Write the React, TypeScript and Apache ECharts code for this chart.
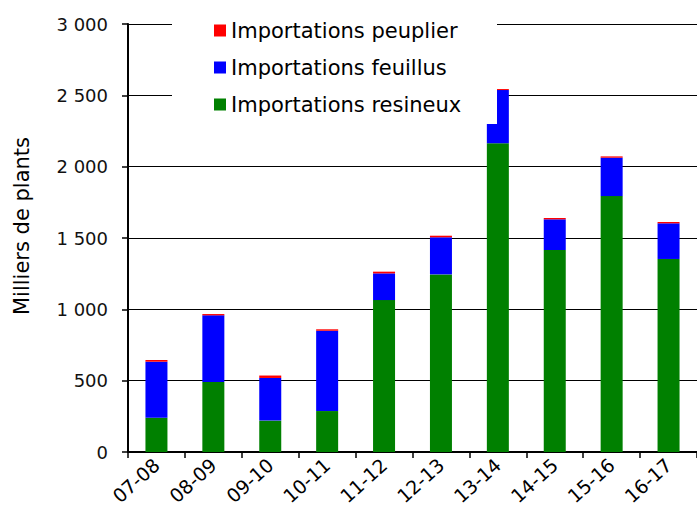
import React, { useEffect, useRef } from "react";
import * as echarts from "echarts";

const categories = ["07-08", "08-09", "09-10", "10-11", "11-12", "12-13", "13-14", "14-15", "15-16", "16-17"];
const resineux = [240, 491, 220, 287, 1065, 1245, 2164, 1416, 1794, 1353];
const feuillus = [393, 467, 299, 563, 187, 260, 373, 215, 269, 250];
const peuplier = [12, 9, 17, 10, 12, 11, 7, 9, 9, 9];
const seriesNames = ["Importations peuplier", "Importations feuillus", "Importations resineux"];
const yTitle = "Milliers de plants";

const FONT = "DejaVu Sans";

function fmt(v: number): string {
  const s = String(Math.round(v));
  return s.replace(/\B(?=(\d{3})+(?!\d))/g, " ");
}

export default function App() {
  const ref = useRef<HTMLDivElement>(null);
  useEffect(() => {
    if (!ref.current) return;
    const chart = echarts.init(ref.current, undefined, { renderer: "svg" });
    chart.setOption({
      animation: false,
      backgroundColor: "#fff",
      grid: { left: 128, top: 24, right: -10, bottom: 61 },
      xAxis: {
        type: "category",
        data: categories,
        boundaryGap: true,
        axisLine: { lineStyle: { color: "#000", width: 2 } },
        axisTick: { show: true, length: 6, lineStyle: { color: "#000", width: 1.5 } },
        axisLabel: { rotate: 42, fontSize: 19, fontFamily: FONT, color: "#000", margin: 10 },
      },
      yAxis: {
        type: "value",
        min: 0,
        max: 3000,
        interval: 500,
        axisLine: { show: true, lineStyle: { color: "#000", width: 2 } },
        axisTick: { show: true, length: 6, lineStyle: { color: "#000", width: 1.5 } },
        splitLine: { show: true, lineStyle: { color: "#000", width: 1.2 } },
        axisLabel: { fontSize: 18, fontFamily: FONT, color: "#111", margin: 20, formatter: (v: number) => fmt(v) },
      },
      legend: {
        orient: "vertical",
        left: 209,
        top: 15,
        itemWidth: 12,
        itemHeight: 12,
        itemGap: 16,
        icon: "rect",
        z: 20,
        data: seriesNames,
        textStyle: { fontSize: 21, fontFamily: FONT, color: "#000" },
      },
      graphic: [
        {
          type: "rect",
          z: 10,
          shape: { x: 172, y: 8, width: 325, height: 116 },
          style: { fill: "#fff" },
        },
        {
          type: "text",
          x: 22,
          y: 226,
          rotation: Math.PI / 2,
          style: {
            text: yTitle,
            fontSize: 21,
            fontFamily: FONT,
            fill: "#000",
            align: "center",
            verticalAlign: "middle",
          },
        },
      ],
      series: [
        {
          name: seriesNames[2],
          type: "bar",
          stack: "total",
          barWidth: 22,
          data: resineux,
          itemStyle: { color: "#008000" },
        },
        {
          name: seriesNames[1],
          type: "bar",
          stack: "total",
          barWidth: 22,
          data: feuillus,
          itemStyle: { color: "#0000ff" },
        },
        {
          name: seriesNames[0],
          type: "bar",
          stack: "total",
          barWidth: 22,
          data: peuplier,
          itemStyle: { color: "#ff0000" },
        },
      ],
    });
    return () => chart.dispose();
  }, []);
  return <div ref={ref} style={{ position: "fixed", left: 0, top: 0, width: 697, height: 513 }} />;
}
